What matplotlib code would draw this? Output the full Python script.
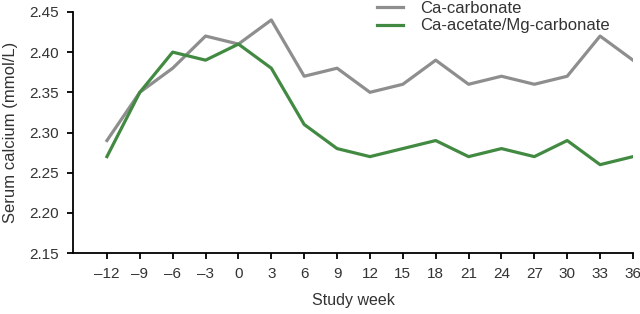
import matplotlib.pyplot as plt
import numpy as np

weeks = [-12, -9, -6, -3, 0, 3, 6, 9, 12, 15, 18, 21, 24, 27, 30, 33, 36]
ca_carbonate = [2.29, 2.35, 2.38, 2.42, 2.41, 2.44, 2.37, 2.38, 2.35, 2.36,
                2.39, 2.36, 2.37, 2.36, 2.37, 2.42, 2.39]
ca_acetate_mg = [2.27, 2.35, 2.40, 2.39, 2.41, 2.38, 2.31, 2.28, 2.27, 2.28,
                 2.29, 2.27, 2.28, 2.27, 2.29, 2.26, 2.27]
yticks = [2.15, 2.20, 2.25, 2.30, 2.35, 2.40, 2.45]

plt.rcParams['font.family'] = ['Liberation Sans', 'DejaVu Sans']
txt = '#333333'

fig = plt.figure(figsize=(6.4, 3.14), dpi=100)
ax = fig.add_axes([0.114, 0.194, 0.875, 0.768])

ax.plot(weeks, ca_carbonate, color='#8e8e8e', lw=2.3, label='Ca-carbonate')
ax.plot(weeks, ca_acetate_mg, color='#428a42', lw=2.3, label='Ca-acetate/Mg-carbonate')

ax.set_xlim(-15.1, 36)
ax.set_ylim(2.15, 2.45)
ax.set_xticks(weeks)
ax.set_xticklabels([str(w).replace('-', '\u2013') for w in weeks])
ax.set_yticks(yticks)
ax.set_yticklabels(['%.2f' % v for v in yticks])
for s in ['top', 'right']:
    ax.spines[s].set_visible(False)
for s in ['left', 'bottom']:
    ax.spines[s].set_linewidth(1.3)
    ax.spines[s].set_color('black')
ax.tick_params(direction='out', length=4, width=1.3, labelsize=11,
               labelcolor=txt, pad=6)
ax.set_xlabel('Study week', fontsize=11.5, color=txt, labelpad=9)
ax.set_ylabel('Serum calcium (mmol/L)', fontsize=12, color=txt, labelpad=8)

ax.legend(loc='upper left', bbox_to_anchor=(0.565, 1.045), bbox_transform=fig.transFigure,
          frameon=False, fontsize=12, handlelength=1.6, handletextpad=1.0,
          labelspacing=0.15, labelcolor=txt)

fig.savefig('out.png', dpi=100)
